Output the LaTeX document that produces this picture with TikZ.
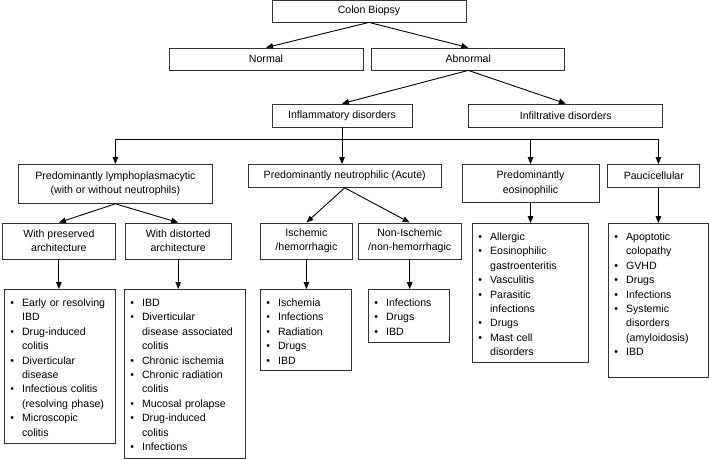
\documentclass[tikz,border=0pt]{standalone}
\usepackage{fontspec}
\setmainfont{Liberation Sans}
\usetikzlibrary{positioning, calc, arrows.meta}

\newcommand{\bul}{\makebox[11.7pt][l]{\textbullet}}
\newcommand{\cont}{\hspace*{11.7pt}}

\begin{document}
\begin{tikzpicture}[
    x=1pt, y=-1pt,
    box/.style={rectangle, draw=black!80, line width=0.8pt, minimum height=22pt, inner sep=2pt, font=\fontsize{10.6}{14.4}\selectfont, align=center},
    list/.style={rectangle, draw=black!80, line width=0.8pt, anchor=north west, inner xsep=6pt, inner ysep=7pt, text height=10pt, font=\fontsize{10.6}{14.4}\selectfont, align=left},
    arrow/.style={-{Triangle[length=7pt,width=5.5pt]}, line width=0.9pt}
]
\useasboundingbox (0,0) rectangle (709,459);

\node[box, minimum width=194pt] (colon) at (369,11) {Colon Biopsy};
\node[box, minimum width=194pt] (normal) at (266,59) {Normal};
\node[box, minimum width=193pt, right=8pt of normal] (abnormal) {Abnormal};

\node[box, minimum width=140pt, minimum height=23pt] (infl) at (342,115.5) {Inflammatory disorders};
\node[box, minimum width=194pt, minimum height=23pt, right=56pt of infl] (infil) {Infiltrative disorders};

\node[box, minimum width=194pt, minimum height=39pt, anchor=north west] (lympho) at (18,164) {Predominantly lymphoplasmacytic\\(with or without neutrophils)};
\node[box, minimum width=193pt, minimum height=23pt, right=35pt of lympho.north east, anchor=north west] (neutro) {Predominantly neutrophilic (Acute)};
\node[box, minimum width=137pt, minimum height=38pt, right=20pt of neutro.north east, anchor=north west] (eosin) {Predominantly\\eosinophilic};
\node[box, minimum width=92pt, minimum height=23pt, right=8pt of eosin.north east, anchor=north west] (pauci) {Paucicellular};

\node[box, minimum width=113pt, minimum height=36pt, anchor=north west] (preserved) at (2,222.5) {With preserved\\architecture};
\node[box, minimum width=106pt, minimum height=36pt, right=9pt of preserved.north east, anchor=north west] (distorted) {With distorted\\architecture};
\node[box, minimum width=92pt, minimum height=36pt, anchor=north west] (ischemic) at (260,222.5) {Ischemic\\/hemorrhagic};
\node[box, minimum width=103pt, minimum height=36pt, right=5pt of ischemic.north east, anchor=north west] (nonisch) {Non-Ischemic\\/non-hemorrhagic};

% lists
\node[list, text width=99pt, text depth=130pt] (prelist) at (4,289) {\bul Early or resolving\\\cont IBD\\\bul Drug-induced\\\cont colitis\\\bul Diverticular\\\cont disease\\\bul Infectious colitis\\\cont (resolving phase)\\\bul Microscopic\\\cont colitis};
\node[list, text width=109pt, text depth=145pt] (dislist) at (124,289) {\bul IBD\\\bul Diverticular\\\cont disease associated\\\cont colitis\\\bul Chronic ischemia\\\bul Chronic radiation\\\cont colitis\\\bul Mucosal prolapse\\\bul Drug-induced\\\cont colitis\\\bul Infections};
\node[list, text width=79pt, text depth=57pt] (ischlist) at (260,289) {\bul Ischemia\\\bul Infections\\\bul Radiation\\\bul Drugs\\\bul IBD};
\node[list, text width=69pt, text depth=29pt] (nonlist) at (368,289) {\bul Infections\\\bul Drugs\\\bul IBD};
\node[list, text width=104pt, text depth=115pt] (eoslist) at (472,223) {\bul Allergic\\\bul Eosinophilic\\\cont gastroenteritis\\\bul Vasculitis\\\bul Parasitic\\\cont infections\\\bul Drugs\\\bul Mast cell\\\cont disorders};
\node[list, text width=88pt, text depth=130pt] (paulist) at (608,223) {\bul Apoptotic\\\cont colopathy\\\bul GVHD\\\bul Drugs\\\bul Infections\\\bul Systemic\\\cont disorders\\\cont (amyloidosis)\\\bul IBD};

\coordinate (bar) at ($(infl.south)+(0,12)$);

\draw[arrow] (colon.south) -- (normal.north);
\draw[arrow] (colon.south) -- (abnormal.north);
\draw[arrow] (abnormal.south) -- (infl.north);
\draw[arrow] (abnormal.south) -- (infil.north);

\draw[line width=0.9pt] (bar -| lympho.north) -- (bar -| paulist.north);
\draw[arrow] (infl.south) -- (infl.south |- neutro.north);
\draw[arrow] (bar -| lympho.north) -- (lympho.north);
\draw[arrow] (bar -| eosin.north) -- (eosin.north);
\draw[arrow] (bar -| paulist.north) -- (paulist.north |- pauci.north);

\draw[arrow] (lympho.south) -- (preserved.north);
\draw[arrow] (lympho.south) -- (distorted.north);
\draw[arrow] (neutro.south) -- (ischemic.north);
\draw[arrow] (neutro.south) -- (nonisch.north);

\draw[arrow] (preserved.south) -- (preserved.south |- prelist.north);
\draw[arrow] (distorted.south) -- (distorted.south |- dislist.north);
\draw[arrow] (ischemic.south) -- (ischemic.south |- ischlist.north);
\draw[arrow] (nonisch.south) -- (nonisch.south |- nonlist.north);
\draw[arrow] (eosin.south) -- (eosin.south |- eoslist.north);
\draw[arrow] (paulist.north |- pauci.south) -- (paulist.north);

\end{tikzpicture}
\end{document}
